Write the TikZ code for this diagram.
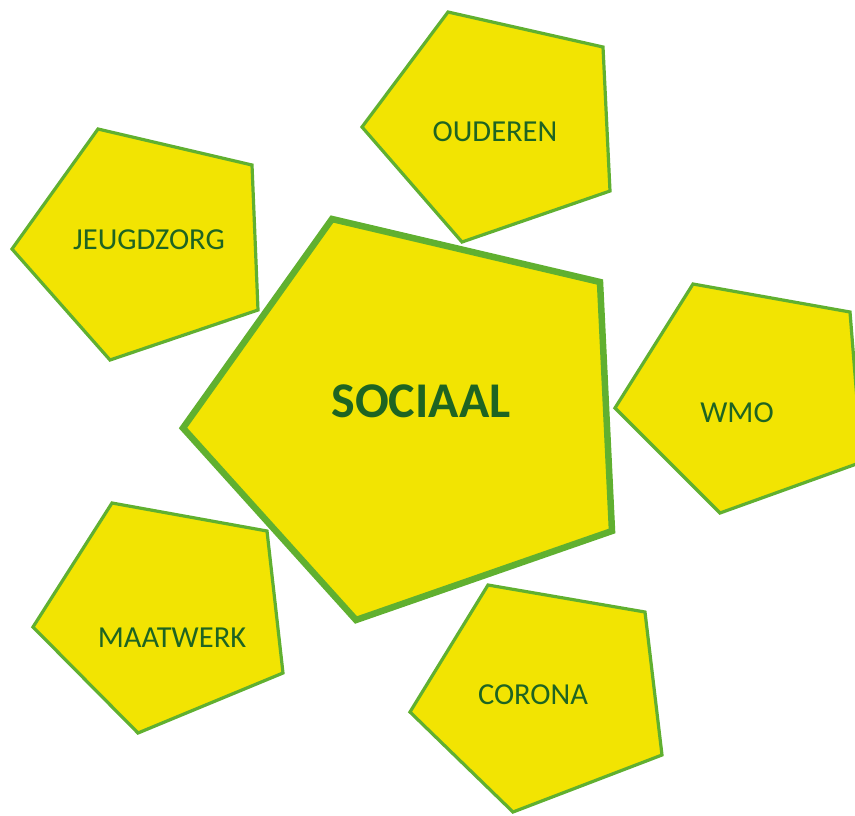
\documentclass[tikz,border=0pt]{standalone}
\usepackage{fontspec}
\setmainfont{Carlito}
\definecolor{pfill}{RGB}{242,228,2}
\definecolor{pedge}{RGB}{96,176,48}
\definecolor{ptext}{RGB}{30,100,34}
\tikzset{
  smallpent/.style={fill=pfill,draw=pedge,line width=3.2pt,line join=miter},
  bigpent/.style={fill=pfill,draw=pedge,line width=6.5pt,line join=miter},
  lbl/.style={text=ptext,font=\fontsize{30.5}{32}\selectfont},
  biglbl/.style={text=ptext,font=\fontsize{50}{52}\selectfont\bfseries},
}
\begin{document}
\begin{tikzpicture}[x=1pt,y=-1pt]
\useasboundingbox (0,0) rectangle (855,815);
\begin{scope}
\clip (0,0) rectangle (855,815);
% OUDEREN
\draw[smallpent] (362,127) -- (448,12) -- (603,47) -- (610,191) -- (462,242) -- cycle;
% JEUGDZORG
\draw[smallpent] (12,249) -- (98,129) -- (252,165) -- (258,310) -- (110,360) -- cycle;
% WMO
\draw[smallpent] (615,408) -- (693,284) -- (850,312) -- (862,462) -- (720,513) -- cycle;
% MAATWERK
\draw[smallpent] (33,627) -- (112,503) -- (267,531) -- (283,673) -- (138,733) -- cycle;
% CORONA
\draw[smallpent] (410,712) -- (488,585) -- (645,612) -- (662,755) -- (513,812) -- cycle;
% SOCIAAL
\draw[bigpent] (183,428) -- (332,219) -- (600,282) -- (612,531) -- (356,620) -- cycle;
\end{scope}
\node[biglbl] (sociaal) at (421,401) {SOCIAAL};
\node[lbl] (ouderen) at (495,132) {OUDEREN};
\node[lbl] (jeugd) at (149,240) {JEUGDZORG};
\node[lbl] (wmo) at (737,413) {WMO};
\node[lbl] (maat) at (172,638) {MAATWERK};
\node[lbl] (corona) at (533,695) {CORONA};
\end{tikzpicture}
\end{document}
